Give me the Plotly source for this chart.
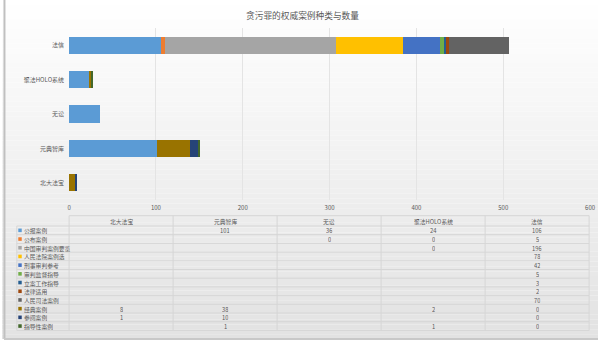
import plotly.graph_objects as go

W, H = 604, 343
FONT = "Noto Sans CJK SC"
TXT = "#595959"

categories = ["北大法宝", "元典智库", "无讼", "聚法HOLO系统", "法信"]
series_names = ["公报案例", "公布案例", "中国审判案例要览", "人民法院案例选", "刑事审判参考",
                "审判监督指导", "立案工作指导", "法律适用", "人民司法案例", "经典案例",
                "参阅案例", "指导性案例"]
gongbao = [None, 101, 36, 24, 106]
gongbu = [None, None, 0, 0, 5]
yaolan = [None, None, None, 0, 196]
anliexuan = [None, None, None, None, 78]
xingshi = [None, None, None, None, 42]
shenpan = [None, None, None, None, 5]
lian = [None, None, None, None, 3]
falv = [None, None, None, None, 2]
sifa = [None, None, None, None, 70]
jingdian = [8, 38, None, 2, 0]
canyue = [1, 10, None, None, 0]
zhidao = [None, 1, None, 1, 0]
series_values = [gongbao, gongbu, yaolan, anliexuan, xingshi, shenpan, lian, falv,
                 sifa, jingdian, canyue, zhidao]
colors = ["#5B9BD5", "#ED7D31", "#A5A5A5", "#FFC000", "#4472C4", "#70AD47",
          "#255E91", "#9E480E", "#636363", "#997300", "#264478", "#43682B"]
x_ticks = [0, 100, 200, 300, 400, 500, 600]
title = "贪污罪的权威案例种类与数量"


def px(x):
    return x / W


def py(y):
    return 1 - y / H


fig = go.Figure()
for name, vals, c in zip(series_names, series_values, colors):
    fig.add_trace(go.Bar(y=categories, x=vals, name=name, orientation="h",
                         marker=dict(color=c, line=dict(width=0)),
                         showlegend=False))

shapes = []
# background gradient
N = 70
for i in range(N):
    y0 = i * 339 / N
    y1 = (i + 1) * 339 / N
    v = int(round(255 - 29 * ((y0 + y1) / 2) / 339))
    shapes.append(dict(type="rect", xref="paper", yref="paper", x0=0, x1=1,
                       y0=py(y1), y1=py(y0), line=dict(width=0),
                       fillcolor=f"rgb({v},{v},{v})", layer="below"))
# frame
shapes.append(dict(type="line", xref="paper", yref="paper", x0=px(2.5), x1=px(2.5),
                   y0=py(339), y1=py(0), line=dict(color="#c0c0c0", width=2), layer="above"))
shapes.append(dict(type="line", xref="paper", yref="paper", x0=px(2), x1=1,
                   y0=py(339), y1=py(339), line=dict(color="#c8c8c8", width=2), layer="above"))

# table geometry
col_edges = [68 + i * (595 - 68) / 5 for i in range(6)]
t_top = 215.7
h_bot = 226.0
rh = 8.7
row_top = [h_bot + i * rh for i in range(len(series_names) + 1)]
t_bot = row_top[-1]
gc = "#d6d6d6"
shapes.append(dict(type="line", xref="paper", yref="paper", x0=px(68), x1=px(595),
                   y0=py(t_top), y1=py(t_top), line=dict(color=gc, width=1)))
for yy in row_top:
    shapes.append(dict(type="line", xref="paper", yref="paper", x0=px(15), x1=px(595),
                       y0=py(yy), y1=py(yy), line=dict(color=gc, width=1)))
shapes.append(dict(type="line", xref="paper", yref="paper", x0=px(15), x1=px(15),
                   y0=py(t_bot), y1=py(h_bot), line=dict(color=gc, width=1)))
for xe in col_edges:
    shapes.append(dict(type="line", xref="paper", yref="paper", x0=px(xe), x1=px(xe),
                       y0=py(t_bot), y1=py(t_top), line=dict(color=gc, width=1)))


def ann(text, x, y, size=5.8, xanchor="center", height=8):
    d = dict(text=text, x=px(x), y=py(y), xref="paper", yref="paper",
             xanchor=xanchor, yanchor="middle", showarrow=False, borderpad=0,
             font=dict(family=FONT, size=size, color=TXT))
    if height:
        d["height"] = height
    return d


annotations = [ann(title, 305, 15, size=8.7, height=None)]
for j, cat in enumerate(categories):
    cx = (col_edges[j] + col_edges[j + 1]) / 2
    annotations.append(ann(cat, cx, (t_top + h_bot) / 2))
for i, (name, vals, c) in enumerate(zip(series_names, series_values, colors)):
    cy = row_top[i] + rh / 2
    shapes.append(dict(type="rect", xref="paper", yref="paper", x0=px(16.5), x1=px(20),
                       y0=py(cy + 1.8), y1=py(cy - 1.8), fillcolor=c, line=dict(width=0)))
    annotations.append(ann(name, 21, cy, xanchor="left"))
    for j, v in enumerate(vals):
        if v is None:
            continue
        cx = (col_edges[j] + col_edges[j + 1]) / 2
        annotations.append(ann(str(v), cx, cy))

fig.update_layout(
    width=W, height=H, margin=dict(l=0, r=0, t=0, b=0),
    paper_bgcolor="white", plot_bgcolor="rgba(0,0,0,0)",
    barmode="stack", bargap=0.5,
    shapes=shapes, annotations=annotations,
    font=dict(family=FONT, size=6, color=TXT),
    xaxis=dict(domain=[px(68), px(596)], range=[0, 600], tickvals=x_ticks,
               showgrid=True, gridcolor="#e4e4e4", gridwidth=1, zeroline=False,
               showline=False, ticks="", ticklabelstandoff=3,
               tickfont=dict(size=6, color=TXT), anchor="y"),
    yaxis=dict(domain=[py(200), py(28)], showgrid=False, zeroline=False,
               showline=False, ticks="", ticklabelstandoff=4,
               tickfont=dict(size=6, color=TXT)),
)
fig.write_html("out.html")
